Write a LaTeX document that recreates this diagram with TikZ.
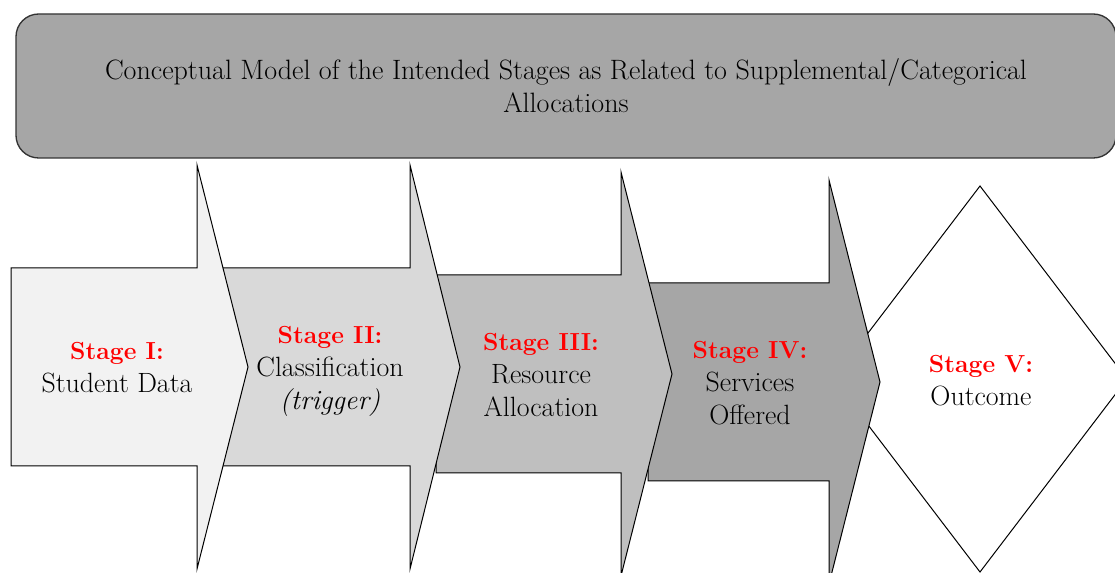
\documentclass[tikz,border=0pt]{standalone}
\usetikzlibrary{positioning}
\colorlet{stagered}{red}
\colorlet{bannergray}{gray!70}

\begin{document}
\begin{tikzpicture}[x=0.75pt, y=-0.75pt,
	line join=miter,
	stagearrow/.style={draw=black, line width=0.75pt},
	outcome/.style={draw=black, line width=0.75pt, fill=white},
	banner/.style={draw=black!80, line width=1pt, fill=bannergray,
		rounded corners=17pt, minimum width=825pt, minimum height=108pt,
		align=center, font=\fontsize{21}{24.75}\selectfont},
	stagehead/.style={anchor=base, inner sep=0pt, text=stagered,
		font=\fontsize{18.5}{24.5}\selectfont\bfseries},
	stagebody/.style={anchor=base, inner sep=0pt,
		font=\fontsize{20.9}{24.5}\selectfont}]
	
	\useasboundingbox (0,0) rectangle (1115,573);
	
	% last stage first, every arrow lies over the one to its right
	\path [outcome] (980,186) -- (1127,379) -- (980,572) -- (833,379) -- cycle;
	
	\foreach \l/\s/\t/\y/\c in {648/829/880/382/gray!70, 436/621/672/374/gray!50,
		210/410/460/367/gray!30, 11/197/248/367/gray!10}{
		\path [stagearrow, fill=\c] 
		(\l,\y-99) -- (\s,\y-99) -- (\s,\y-202) -- (\t,\y) -- 
		(\s,\y+202) -- (\s,\y+99) -- (\l,\y+99) -- cycle;
	}
	
	\node [banner] (title) at (566,86) 
	{Conceptual Model of the Intended Stages as Related to Supplemental/Categorical\\Allocations};
	
	% stage I
	\node [stagehead] (head1) at (117,360) {Stage I:};
	\node [stagebody] (data) at ([yshift=-24.5pt]head1.base) {Student Data};
	% stage II
	\node [stagehead] (head2) at (330,344) {Stage II:};
	\node [stagebody] (classification) at ([yshift=-24.5pt]head2.base) {Classification};
	\node [stagebody] (trigger) at ([yshift=-24.5pt]classification.base) 
	{\itshape (trigger)};
	% stage III
	\node [stagehead] (head3) at (541,351) {Stage III:};
	\node [stagebody] (resource) at ([yshift=-24.5pt]head3.base) {Resource};
	\node [stagebody] (allocation) at ([yshift=-24.5pt]resource.base) {Allocation};
	% stage IV
	\node [stagehead] (head4) at (750,359) {Stage IV:};
	\node [stagebody] (services) at ([yshift=-24.5pt]head4.base) {Services};
	\node [stagebody] (offered) at ([yshift=-24.5pt]services.base) {Offered};
	% stage V
	\node [stagehead] (head5) at (981,373) {Stage V:};
	\node [stagebody] (outcome) at ([yshift=-24.5pt]head5.base) {Outcome};
	
\end{tikzpicture}
\end{document}
